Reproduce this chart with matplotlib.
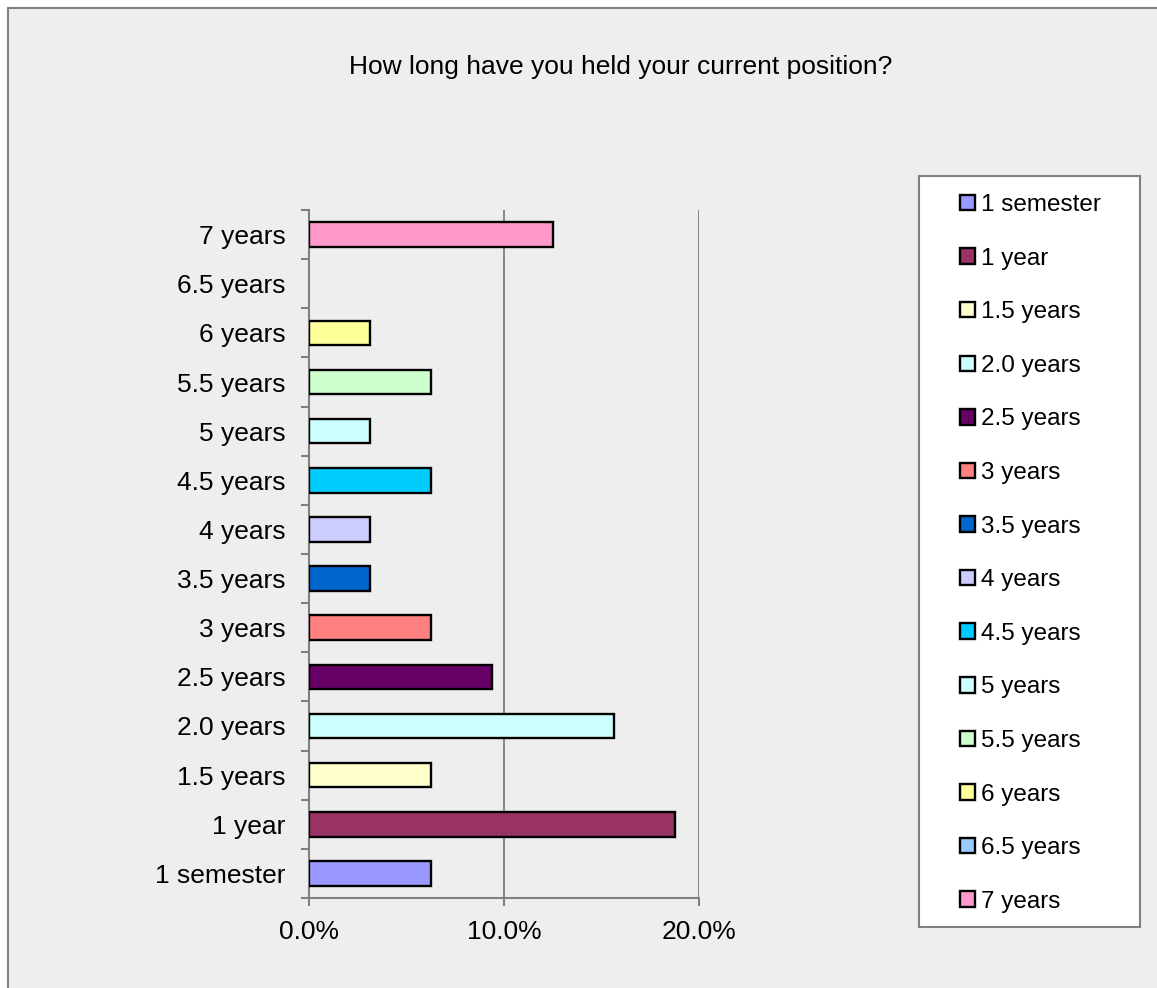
import matplotlib
matplotlib.use("Agg")
import matplotlib.pyplot as plt
from matplotlib.patches import Patch, Rectangle
from matplotlib.ticker import PercentFormatter
import numpy as np

plt.rcParams['font.family'] = ['Liberation Sans', 'DejaVu Sans']

# data
categories = ['1 semester', '1 year', '1.5 years', '2.0 years', '2.5 years',
              '3 years', '3.5 years', '4 years', '4.5 years', '5 years',
              '5.5 years', '6 years', '6.5 years', '7 years']
shares = [0.0625, 0.1875, 0.0625, 0.15625, 0.09375,
          0.0625, 0.03125, 0.03125, 0.0625, 0.03125,
          0.0625, 0.03125, 0.0, 0.125]
colors = ['#9999FF', '#993366', '#FFFFCC', '#CCFFFF', '#660066',
          '#FF8080', '#0066CC', '#CCCCFF', '#00CCFF', '#CCFFFF',
          '#CCFFCC', '#FFFF99', '#99CCFF', '#FF99CC']
title = 'How long have you held your current position?'

fig = plt.figure(figsize=(11.57, 9.88), dpi=100, facecolor='white')

# chart area background with grey border
bg = Rectangle((8 / 1157, -0.02), 1.1, 1 - 8 / 988 + 0.02, transform=fig.transFigure,
               facecolor='#EEEEEE', edgecolor='#808080', linewidth=1.5, zorder=-10)
fig.patches.append(bg)

ax = fig.add_axes([309 / 1157, 1 - 898 / 988, 390 / 1157, 688 / 988])
ax.set_facecolor('none')

pos = np.arange(len(categories))
# empty categories get no outline
edge_w = [1.7 if v > 0 else 0 for v in shares]
ax.barh(pos, shares, height=0.5, color=colors, edgecolor='black', linewidth=edge_w, zorder=3)

ax.set_xlim(0, 0.2)
ax.set_ylim(-0.5, len(categories) - 0.5)
ax.set_xticks([0, 0.1, 0.2])
ax.xaxis.set_major_formatter(PercentFormatter(1, decimals=1))
ax.set_yticks(pos)
ax.set_yticklabels(categories)
ax.set_yticks(np.arange(-0.5, len(categories), 1.0), minor=True)

ax.tick_params(axis='y', which='major', length=0, pad=17, labelsize=19)
ax.tick_params(axis='y', which='minor', length=6, width=1.5, color='#808080')
ax.tick_params(axis='x', length=6, width=1.5, color='#808080', pad=10, labelsize=19)

ax.grid(axis='x', color='#808080', linewidth=1.3, zorder=1)
for s in ['top', 'right']:
    ax.spines[s].set_visible(False)
for s in ['left', 'bottom']:
    ax.spines[s].set_color('#808080')
    ax.spines[s].set_linewidth(1.5)

fig.text(621 / 1157, 1 - 67 / 988, title, ha='center', va='center', fontsize=19)

# legend box
box = Rectangle((919 / 1157, 1 - 927 / 988), 221 / 1157, 751 / 988, transform=fig.transFigure,
                facecolor='white', edgecolor='#808080', linewidth=1.5, zorder=-5)
fig.patches.append(box)

handles = [Patch(facecolor=c, edgecolor='black', linewidth=1.7) for c in colors]
fig.legend(handles, categories, loc='upper left', bbox_to_anchor=(960 / 1157, 1 - 194 / 988),
           frameon=False, fontsize=17.5, handlelength=0.6, handleheight=0.6,
           handletextpad=0.25, labelspacing=1.3, borderpad=0, borderaxespad=0)

fig.savefig('out.png', dpi=100, facecolor='white')
